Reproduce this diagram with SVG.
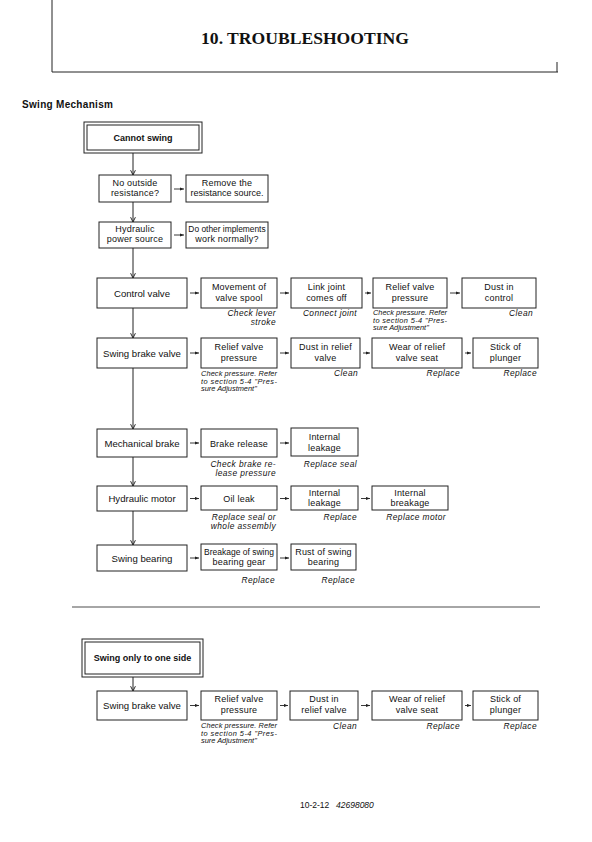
<svg xmlns="http://www.w3.org/2000/svg" width="592" height="842" viewBox="0 0 592 842">
<defs>
<style>
.bx{fill:#fff;stroke:#222;stroke-width:1}
.t{font-family:"Liberation Sans",Arial,sans-serif;font-size:9px;fill:#111;text-anchor:middle;letter-spacing:0.2px}
.tl{font-family:"Liberation Sans",Arial,sans-serif;font-size:9.6px;fill:#111;text-anchor:middle}
.tb{font-family:"Liberation Sans",Arial,sans-serif;font-size:9px;font-weight:bold;fill:#111;text-anchor:middle}
.n{font-family:"Liberation Sans",Arial,sans-serif;font-size:8.4px;font-style:italic;fill:#111;text-anchor:end;letter-spacing:0.4px}
.nl{font-family:"Liberation Sans",Arial,sans-serif;font-size:7.4px;font-style:italic;fill:#111;text-anchor:start}
.ln{stroke:#222;stroke-width:1;fill:none}
.ha{stroke:#222;stroke-width:0.9;fill:none;marker-end:url(#ah)}
.va{stroke:#222;stroke-width:1;fill:none;marker-end:url(#av)}
</style>
<marker id="ah" viewBox="0 0 10 10" refX="10" refY="5" markerWidth="5" markerHeight="4" markerUnits="userSpaceOnUse" orient="auto"><path d="M0,1 L10,5 L0,9 z" fill="#222"/></marker>
<marker id="av" viewBox="0 0 10 10" refX="9" refY="5" markerWidth="6" markerHeight="6" markerUnits="userSpaceOnUse" orient="auto"><path d="M1,1 L9,5 L1,9" fill="none" stroke="#222" stroke-width="1.6"/></marker>
</defs>
<rect width="592" height="842" fill="#fff"/>

<g id="header">
<path d="M52,0 V72 H558" class="ln" stroke="#444"/>
<path d="M557,62 V72" class="ln"/>
<text x="305" y="44" font-family="'Liberation Serif','Times New Roman',serif" font-size="17.6" font-weight="bold" text-anchor="middle" fill="#111">10. TROUBLESHOOTING</text>
<text x="22" y="108" font-family="'Liberation Sans',Arial,sans-serif" font-size="10" font-weight="bold" fill="#111" letter-spacing="0.3">Swing Mechanism</text>
</g>

<g id="connectors">
<line x1="133" y1="153" x2="133" y2="175" class="va"/>
<line x1="133" y1="202" x2="133" y2="222" class="va"/>
<line x1="133" y1="248" x2="133" y2="278" class="va"/>
<line x1="133" y1="308" x2="133" y2="338" class="va"/>
<line x1="133" y1="368" x2="133" y2="429" class="va"/>
<line x1="133" y1="457" x2="133" y2="486" class="va"/>
<line x1="133" y1="511" x2="133" y2="545" class="va"/>
<line x1="133" y1="677" x2="133" y2="691" class="va"/>
<line x1="174" y1="189" x2="184" y2="189" class="ha"/>
<line x1="174" y1="235" x2="184" y2="235" class="ha"/>
<line x1="190" y1="293" x2="199" y2="293" class="ha"/>
<line x1="280" y1="293" x2="289" y2="293" class="ha"/>
<line x1="365" y1="293" x2="371" y2="293" class="ha"/>
<line x1="450" y1="293" x2="460" y2="293" class="ha"/>
<line x1="190" y1="353" x2="199" y2="353" class="ha"/>
<line x1="280" y1="353" x2="289" y2="353" class="ha"/>
<line x1="363" y1="353" x2="370" y2="353" class="ha"/>
<line x1="465" y1="353" x2="471" y2="353" class="ha"/>
<line x1="190" y1="443" x2="199" y2="443" class="ha"/>
<line x1="280" y1="443" x2="289" y2="443" class="ha"/>
<line x1="190" y1="498.5" x2="199" y2="498.5" class="ha"/>
<line x1="280" y1="498.5" x2="289" y2="498.5" class="ha"/>
<line x1="361" y1="498.5" x2="370" y2="498.5" class="ha"/>
<line x1="190" y1="558" x2="199" y2="558" class="ha"/>
<line x1="280" y1="558" x2="289" y2="558" class="ha"/>
<line x1="190" y1="705.5" x2="199" y2="705.5" class="ha"/>
<line x1="280" y1="705.5" x2="288" y2="705.5" class="ha"/>
<line x1="361" y1="705.5" x2="370" y2="705.5" class="ha"/>
<line x1="465" y1="705.5" x2="471" y2="705.5" class="ha"/>
</g>

<g id="cannot-swing">
<rect x="84" y="122" width="118" height="31" class="bx"/>
<rect x="87" y="125" width="112" height="25" class="bx"/>
<text x="143" y="141" class="tb">Cannot swing</text>
</g>
<g id="no-outside">
<rect x="99" y="175" width="72" height="27" class="bx"/>
<text x="135" y="186" class="t">No outside</text>
<text x="135" y="196" class="t">resistance?</text>
</g>
<g id="remove">
<rect x="186" y="175" width="82" height="27" class="bx"/>
<text x="227" y="186" class="t">Remove the</text>
<text x="227" y="196" class="t" style="letter-spacing:0">resistance source.</text>
</g>
<g id="hydraulic-power">
<rect x="99" y="222" width="72" height="26" class="bx"/>
<text x="135" y="232" class="t">Hydraulic</text>
<text x="135" y="242" class="t">power source</text>
</g>
<g id="other-implements">
<rect x="186" y="222" width="82" height="26" class="bx"/>
<text x="227" y="232" class="t" style="font-size:8.4px;letter-spacing:0">Do other implements</text>
<text x="227" y="242" class="t">work normally?</text>
</g>

<g id="control-valve">
<rect x="97" y="278" width="90" height="30" class="bx"/>
<text x="142" y="296.5" class="tl">Control valve</text>
</g>
<g id="movement">
<rect x="201" y="278" width="76" height="30" class="bx"/>
<text x="239" y="290" class="t">Movement of</text>
<text x="239" y="301" class="t">valve spool</text>
<text x="276" y="316" class="n">Check lever</text>
<text x="276" y="325" class="n">stroke</text>
</g>
<g id="link-joint">
<rect x="291" y="278" width="71" height="30" class="bx"/>
<text x="326.5" y="290" class="t">Link joint</text>
<text x="326.5" y="301" class="t">comes off</text>
<text x="357" y="316" class="n">Connect joint</text>
</g>
<g id="relief1">
<rect x="373" y="278" width="74" height="30" class="bx"/>
<text x="410" y="290" class="t">Relief valve</text>
<text x="410" y="301" class="t">pressure</text>
<text x="373" y="315" class="nl" textLength="74" lengthAdjust="spacing">Check pressure. Refer</text>
<text x="373" y="322.5" class="nl" textLength="74" lengthAdjust="spacing">to section 5-4 "Pres-</text>
<text x="373" y="330" class="nl">sure Adjustment"</text>
</g>
<g id="dust-control">
<rect x="462" y="278" width="74" height="30" class="bx"/>
<text x="499" y="290" class="t">Dust in</text>
<text x="499" y="301" class="t">control</text>
<text x="533" y="316" class="n">Clean</text>
</g>

<g id="swing-brake-valve">
<rect x="97" y="338" width="90" height="30" class="bx"/>
<text x="142" y="356.5" class="tl">Swing brake valve</text>
</g>
<g id="relief2">
<rect x="201" y="338" width="76" height="30" class="bx"/>
<text x="239" y="350" class="t">Relief valve</text>
<text x="239" y="361" class="t">pressure</text>
<text x="201" y="376" class="nl" textLength="76" lengthAdjust="spacing">Check pressure. Refer</text>
<text x="201" y="383.5" class="nl" textLength="76" lengthAdjust="spacing">to section 5-4 "Pres-</text>
<text x="201" y="391" class="nl">sure Adjustment"</text>
</g>
<g id="dust-relief2">
<rect x="291" y="338" width="69" height="30" class="bx"/>
<text x="325.5" y="350" class="t">Dust in relief</text>
<text x="325.5" y="361" class="t">valve</text>
<text x="358" y="376" class="n">Clean</text>
</g>
<g id="wear2">
<rect x="372" y="338" width="90" height="30" class="bx"/>
<text x="417" y="350" class="t">Wear of relief</text>
<text x="417" y="361" class="t">valve seat</text>
<text x="460" y="376" class="n">Replace</text>
</g>
<g id="stick2">
<rect x="473" y="338" width="65" height="30" class="bx"/>
<text x="505.5" y="350" class="t">Stick of</text>
<text x="505.5" y="361" class="t">plunger</text>
<text x="537" y="376" class="n">Replace</text>
</g>

<g id="mechanical-brake">
<rect x="97" y="429" width="90" height="28" class="bx"/>
<text x="142" y="446.5" class="tl">Mechanical brake</text>
</g>
<g id="brake-release">
<rect x="201" y="429" width="76" height="28" class="bx"/>
<text x="239" y="446.5" class="t">Brake release</text>
<text x="276" y="467" class="n">Check brake re-</text>
<text x="276" y="476" class="n">lease pressure</text>
</g>
<g id="internal-leakage3">
<rect x="291" y="428" width="67" height="28" class="bx"/>
<text x="324.5" y="439.5" class="t">Internal</text>
<text x="324.5" y="450.5" class="t">leakage</text>
<text x="357" y="467" class="n">Replace seal</text>
</g>

<g id="hydraulic-motor">
<rect x="97" y="486" width="90" height="25" class="bx"/>
<text x="142" y="502" class="tl">Hydraulic motor</text>
</g>
<g id="oil-leak">
<rect x="201" y="486" width="76" height="24" class="bx"/>
<text x="239" y="502" class="t">Oil leak</text>
<text x="276" y="520" class="n">Replace seal or</text>
<text x="276" y="529" class="n">whole assembly</text>
</g>
<g id="internal-leakage4">
<rect x="291" y="486" width="67" height="24" class="bx"/>
<text x="324.5" y="495.5" class="t">Internal</text>
<text x="324.5" y="506" class="t">leakage</text>
<text x="357" y="520" class="n">Replace</text>
</g>
<g id="internal-breakage">
<rect x="372" y="486" width="76" height="24" class="bx"/>
<text x="410" y="495.5" class="t">Internal</text>
<text x="410" y="506" class="t">breakage</text>
<text x="446" y="520" class="n">Replace motor</text>
</g>

<g id="swing-bearing">
<rect x="97" y="545" width="90" height="26" class="bx"/>
<text x="142" y="561.5" class="tl">Swing bearing</text>
</g>
<g id="breakage-gear">
<rect x="201" y="544" width="76" height="26" class="bx"/>
<text x="239" y="554.5" class="t" style="font-size:8.5px;letter-spacing:0">Breakage of swing</text>
<text x="239" y="565" class="t">bearing gear</text>
<text x="275" y="583" class="n">Replace</text>
</g>
<g id="rust-bearing">
<rect x="291" y="544" width="65" height="26" class="bx"/>
<text x="323.5" y="554.5" class="t">Rust of swing</text>
<text x="323.5" y="565" class="t">bearing</text>
<text x="355" y="583" class="n">Replace</text>
</g>

<line x1="72" y1="607" x2="540" y2="607" stroke="#888" stroke-width="1.5"/>

<g id="swing-one-side">
<rect x="82" y="639" width="121" height="38" class="bx"/>
<rect x="85" y="642" width="115" height="32" class="bx"/>
<text x="142.5" y="661" class="tb">Swing only to one side</text>
</g>
<g id="swing-brake-valve-b">
<rect x="97" y="691" width="90" height="29" class="bx"/>
<text x="142" y="709" class="tl">Swing brake valve</text>
</g>
<g id="relief-b">
<rect x="201" y="691" width="76" height="29" class="bx"/>
<text x="239" y="702" class="t">Relief valve</text>
<text x="239" y="713" class="t">pressure</text>
<text x="201" y="728" class="nl" textLength="76" lengthAdjust="spacing">Check pressure. Refer</text>
<text x="201" y="735.5" class="nl" textLength="76" lengthAdjust="spacing">to section 5-4 "Pres-</text>
<text x="201" y="743" class="nl">sure Adjustment"</text>
</g>
<g id="dust-relief-b">
<rect x="290" y="691" width="68" height="29" class="bx"/>
<text x="324" y="702" class="t">Dust in</text>
<text x="324" y="713" class="t">relief valve</text>
<text x="357" y="729" class="n">Clean</text>
</g>
<g id="wear-b">
<rect x="372" y="691" width="90" height="29" class="bx"/>
<text x="417" y="702" class="t">Wear of relief</text>
<text x="417" y="713" class="t">valve seat</text>
<text x="460" y="729" class="n">Replace</text>
</g>
<g id="stick-b">
<rect x="473" y="691" width="65" height="29" class="bx"/>
<text x="505.5" y="702" class="t">Stick of</text>
<text x="505.5" y="713" class="t">plunger</text>
<text x="537" y="729" class="n">Replace</text>
</g>

<g id="footer">
<text x="300" y="808" font-family="'Liberation Sans',Arial,sans-serif" font-size="8.5" fill="#111">10-2-12</text>
<text x="336" y="808" font-family="'Liberation Sans',Arial,sans-serif" font-size="8.5" font-style="italic" fill="#111">42698080</text>
</g>
</svg>
